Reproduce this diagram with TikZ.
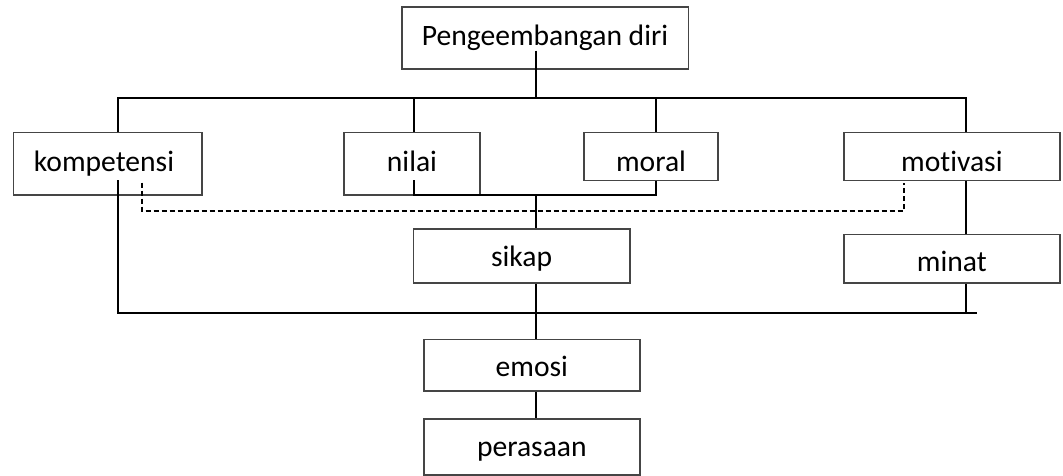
\documentclass[tikz,border=0pt]{standalone}
\usepackage{fontspec}
\setmainfont{Carlito}[Ligatures=NoCommon]
\definecolor{boxgray}{HTML}{454545}
\begin{document}
\begin{tikzpicture}[x=1pt,y=-1pt,
  box/.style={draw=boxgray, line width=1.6pt, rectangle, inner sep=0pt},
  lbl/.style={anchor=base, inner sep=0pt, font=\fontsize{29.6}{34}\selectfont},
  link/.style={line width=2.4pt, black},
  dlink/.style={line width=1.8pt, black, dash pattern=on 5pt off 3pt}]

\useasboundingbox (0,0) rectangle (1063,476);

% boxes
\node[box, minimum width=286.6pt, minimum height=61.7pt] (top)   at (545,38.15)    {};
\node[box, minimum width=188.7pt, minimum height=62pt]   (komp)  at (107.65,163.7) {};
\node[box, minimum width=136pt,   minimum height=62pt]   (nilai) at (412,163.7)    {};
\node[box, minimum width=134pt,   minimum height=47.6pt] (moral) at (651,156.5)    {};
\node[box, minimum width=216.3pt, minimum height=47.6pt] (motiv) at (951.85,156.5) {};
\node[box, minimum width=216.7pt, minimum height=54.3pt] (sikap) at (521.65,255.85){};
\node[box, minimum width=216.3pt, minimum height=48.7pt] (minat) at (951.85,258.65){};
\node[box, minimum width=216.3pt, minimum height=51.4pt] (emosi) at (531.85,365)   {};
\node[box, minimum width=216.3pt, minimum height=56pt]   (peras) at (531.85,447)   {};

% labels
\node[lbl] (topT)   at (545,45.7)     {Pengeembangan diri};
\node[lbl] (kompT)  at (104,171.8)    {kompetensi};
\node[lbl] (nilaiT) at (412,171.8)    {nilai};
\node[lbl] (moralT) at (651,171.8)    {moral};
\node[lbl] (motivT) at (951.85,171.8) {motivasi};
\node[lbl] (sikapT) at (521.65,266.9) {sikap};
\node[lbl] (minatT) at (951.85,271.9) {minat};
\node[lbl] (emosiT) at (531.85,376.9) {emosi};
\node[lbl] (perasT) at (531.85,456.9) {perasaan};

% columns and joints
\coordinate (cA) at (117.7,0);
\coordinate (cB) at (414,0);
\coordinate (cC) at (535.7,0);
\coordinate (cD) at (656,0);
\coordinate (cE) at (966,0);
\coordinate (topIn)  at (535.7,50.7);
\coordinate (busL)   at (117.7,98.3);
\coordinate (busR)   at (966,98.3);
\coordinate (busC)   at (535.7,98.3);
\coordinate (nilaiIn) at (414,180);
\coordinate (nmL)    at (414,194.7);
\coordinate (nmR)    at (656,194.7);
\coordinate (nmC)    at (535.7,194.7);
\coordinate (kompIn) at (117.7,180);
\coordinate (lowL)   at (117.7,312.7);
\coordinate (lowR)   at (976.7,312.7);
\coordinate (dL)     at (141.7,182.7);
\coordinate (dLc)    at (141.7,210.7);
\coordinate (dRc)    at (904,210.7);
\coordinate (dR)     at (904,182.7);

% upper tree
\draw[link] (topIn) -- (busC);
\draw[link] (komp.north -| cA) -- (busL) -- (busR) -- (motiv.north -| cE);
\draw[link] (busL -| cB) -- (nilai.north -| cB);
\draw[link] (busL -| cD) -- (moral.north -| cD);

% nilai and moral joined, leading to sikap
\draw[link] (nilaiIn) -- (nmL) -- (nmR) -- (moral.south -| cD);
\draw[link] (nmC) -- (sikap.north -| cC);

% motivasi to minat
\draw[link] (motiv.south -| cE) -- (minat.north -| cE);
\draw[link] (minat.south -| cE) -- (lowL -| cE);

% kompetensi down to the lower line
\draw[link] (kompIn) -- (lowL) -- (lowR);

% sikap down to emosi and perasaan
\draw[link] (sikap.south -| cC) -- (emosi.north -| cC);
\draw[link] (emosi.south -| cC) -- (peras.north -| cC);

% dashed link between kompetensi and motivasi
\draw[dlink] (dL) -- (dLc) -- (dRc) -- (dR);

\end{tikzpicture}
\end{document}
